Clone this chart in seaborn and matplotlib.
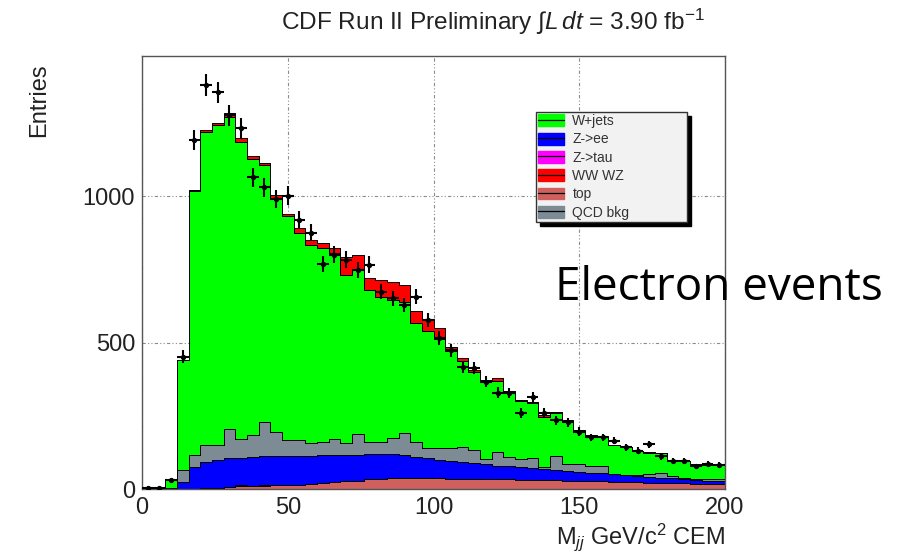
import numpy as np
import pandas as pd
import matplotlib
matplotlib.use("Agg")
import matplotlib.pyplot as plt
import seaborn as sns
from matplotlib.patches import Patch
from matplotlib.lines import Line2D
from matplotlib.legend_handler import HandlerTuple
from matplotlib.ticker import MultipleLocator

# ---------------- data (4 GeV bins, 0-200 GeV) ----------------
bin_edges = [float(e) for e in np.arange(0, 201, 4)]
mjj_centers = [(a + b) / 2 for a, b in zip(bin_edges[:-1], bin_edges[1:])]

top_vals = [0, 0, 0, 0, 0, 2, 4, 8, 9, 10, 11, 12, 14, 15, 17, 19, 23, 26, 29, 33,
            35, 36, 36, 36, 36, 36, 35, 35, 34, 34, 33, 33, 32, 31, 31, 30, 29, 28, 27, 26,
            25, 24, 23, 22, 21, 20, 19, 18, 17, 16]
ztau_vals = [0, 0, 0, 0, 0, 0, 0, 0, 4, 0, 4, 0, 0, 0, 0, 0, 0, 0, 0, 0,
             0, 0, 0, 0, 0, 0, 0, 0, 0, 0, 0, 0, 0, 0, 0, 0, 0, 0, 0, 0,
             0, 0, 0, 0, 0, 0, 0, 0, 0, 0]
zee_vals = [0, 0, 0, 25, 76, 91, 95, 97, 94, 100, 96, 100, 100, 99, 97, 96, 94, 91, 88, 85,
            83, 82, 79, 74, 69, 63, 61, 57, 54, 50, 47, 44, 42, 40, 37, 35, 33, 31, 29, 27,
            25, 23, 21, 19, 18, 16, 14, 13, 12, 11]
qcd_vals = [0, 0, 3, 40, 40, 57, 51, 99, 63, 74, 117, 84, 53, 53, 42, 47, 54, 39, 70, 41,
            41, 57, 77, 52, 36, 40, 43, 52, 45, 17, 47, 33, 27, 34, 6, 48, 23, 26, 22, 25,
            1, 1, 4, 10, 14, 8, 3, 2, 4, 6]
wjets_vals = [0, 0, 28, 376, 902, 1068, 1092, 1065, 1016, 942, 879, 797, 765, 706, 677, 659, 633, 574, 560, 520,
              497, 470, 447, 404, 400, 374, 332, 292, 267, 266, 240, 218, 199, 189, 173, 147, 148, 114, 103, 100,
              98, 95, 81, 73, 69, 54, 60, 51, 48, 48]
diboson_vals = [0, 0, 0, 0, 3, 8, 6, 16, 11, 9, 7, 11, 7, 17, 17, 17, 20, 63, 52, 41,
                58, 63, 58, 40, 40, 35, 15, 11, 6, 5, 11, 5, 4, 4, 4, 4, 3, 3, 3, 3,
                2, 2, 2, 2, 2, 1, 1, 1, 1, 1]
data_vals = [2, 3, 30, 452, 1190, 1378, 1354, 1275, 1231, 1064,
             1030, 990, 1001, 917, 875, 769, 800, 783, 748, 766,
             674, 651, 628, 656, 576, 515, 474, 418, 412, 366,
             329, 327, 260, 313, 261, 234, 228, 196, 176, 176,
             165, 143, 131, 153, 111, 97, 95, 78, 86, 82]

legend_labels = ["W+jets", "Z->ee", "Z->tau", "WW WZ", "top", "QCD bkg"]
colors = {"W+jets": "#00ff00", "Z->ee": "#0000ff", "Z->tau": "#ff00ff",
          "WW WZ": "#ff0000", "top": "#d0605e", "QCD bkg": "#7d8b95"}
# stacking order, top of stack first (seaborn stacks first hue level on top)
stack_order = ["WW WZ", "W+jets", "QCD bkg", "Z->ee", "Z->tau", "top"]
series = {"W+jets": wjets_vals, "Z->ee": zee_vals, "Z->tau": ztau_vals,
          "WW WZ": diboson_vals, "top": top_vals, "QCD bkg": qcd_vals}

df = pd.concat([pd.DataFrame({"mjj": mjj_centers, "entries": v, "process": k})
                for k, v in series.items()], ignore_index=True)

# ---------------- style ----------------
sns.set_theme(style="white")
plt.rcParams["font.family"] = ["Liberation Sans", "DejaVu Sans"]
plt.rcParams["mathtext.fontset"] = "custom"
plt.rcParams["mathtext.rm"] = "Liberation Sans"
plt.rcParams["mathtext.it"] = "Liberation Sans:italic"
plt.rcParams["mathtext.bf"] = "Liberation Sans:bold"
txt_col = "#222222"

fig = plt.figure(figsize=(8.99, 5.54), dpi=100)
ax = fig.add_axes([142 / 899, 65 / 554, 583 / 899, 433 / 554])

sns.histplot(data=df, x="mjj", weights="entries", hue="process",
             hue_order=stack_order, palette=colors, multiple="stack",
             bins=bin_edges, element="step", fill=True, alpha=1,
             linewidth=0.7, edgecolor="black", legend=False, ax=ax)

dv = np.array(data_vals, dtype=float)
ax.errorbar(mjj_centers, dv, xerr=2, yerr=np.sqrt(dv), fmt="o", ms=2.8,
            color="black", ecolor="black", elinewidth=1.5, capsize=0, zorder=5)

ax.set_xlim(0, 200)
ax.set_ylim(0, 1478)
ax.xaxis.set_major_locator(MultipleLocator(50))
ax.xaxis.set_minor_locator(MultipleLocator(10))
ax.yaxis.set_major_locator(MultipleLocator(500))
ax.yaxis.set_minor_locator(MultipleLocator(100))
ax.tick_params(which="both", direction="in", top=False, right=False,
               color="#333333", labelcolor=txt_col, labelsize=17, width=1)
ax.tick_params(axis="y", which="major", length=13, pad=5)
ax.tick_params(axis="y", which="minor", length=6.5)
ax.tick_params(axis="x", which="major", length=12, pad=6)
ax.tick_params(axis="x", which="minor", length=6)

ax.grid(True, which="major", color="#8c8c8c", linestyle=(0, (3, 2, 1, 2, 1, 2)),
        linewidth=0.8)
ax.set_axisbelow(True)
for s in ax.spines.values():
    s.set_color("#555555")
    s.set_linewidth(1.0)

ax.set_xlabel(r"M$_{jj}$ GeV/c$^{2}$ CEM", loc="right", fontsize=17, color=txt_col)
ax.xaxis.set_label_coords(1.0, -0.075)
ax.set_ylabel("Entries", loc="top", fontsize=17, color=txt_col)
ax.yaxis.set_label_coords(-0.158, 0.982)

fig.text(493 / 899, 1 - 22 / 554,
         r"CDF Run II Preliminary $\int L\,dt$ = 3.90 fb$^{-1}$",
         ha="center", va="center", fontsize=17.6, color=txt_col)

fig.text(555 / 899, 1 - 300 / 554, "Electron events", ha="left",
         va="baseline", fontsize=33, color="black", family=["Open Sans", "DejaVu Sans"])

# legend
handles = [(Patch(facecolor=colors[k], edgecolor=colors[k]),
            Line2D([], [], color="black", lw=0.9)) for k in legend_labels]
leg_kw = dict(loc="upper left", bbox_to_anchor=(536 / 899, 1 - 223 / 554, 151 / 899, 111 / 554),
              bbox_transform=fig.transFigure, mode="expand", borderaxespad=0,
              fontsize=10, labelspacing=0.31, handlelength=1.87, handleheight=0.94,
              handletextpad=0.6, borderpad=0.15, fancybox=False, framealpha=1,
              facecolor="#f2f2f2", edgecolor="#333333",
              handler_map={tuple: HandlerTuple(ndivide=1, pad=0)})
try:
    leg = ax.legend(handles, legend_labels,
                    shadow={"ox": 3, "oy": -3, "color": "black", "alpha": 1}, **leg_kw)
except Exception:
    leg = ax.legend(handles, legend_labels, shadow=True, **leg_kw)
leg.get_frame().set_linewidth(1.0)
for t in leg.get_texts():
    t.set_color("#333333")
leg.set_zorder(10)

fig.savefig("out.png", dpi=100)
